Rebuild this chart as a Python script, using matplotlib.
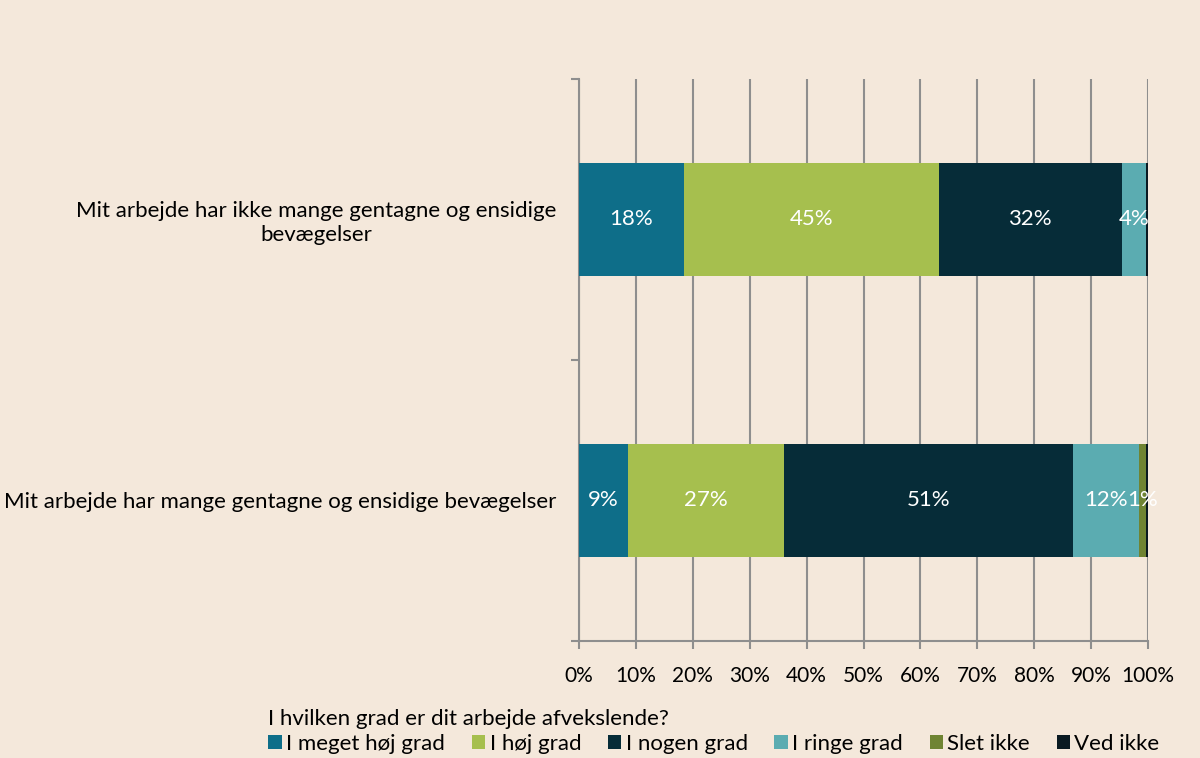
import numpy as np
import matplotlib.pyplot as plt

categories = [
    "Mit arbejde har ikke mange gentagne og ensidige\nbevægelser",
    "Mit arbejde har mange gentagne og ensidige bevægelser",
]

series_names = [
    "I meget høj grad",
    "I høj grad",
    "I nogen grad",
    "I ringe grad",
    "Slet ikke",
    "Ved ikke",
]

# percent per category (top, bottom)
meget_hoej = [18.4, 8.6]
hoej = [44.8, 27.4]
nogen = [32.2, 50.8]
ringe = [4.2, 11.6]
slet_ikke = [0.0, 1.2]
ved_ikke = [0.4, 0.4]

series_values = [meget_hoej, hoej, nogen, ringe, slet_ikke, ved_ikke]

series_colors = ["#0E6E89", "#A6BF4E", "#062C38", "#5BACB1", "#6F8433", "#0A1A22"]

legend_title = "I hvilken grad er dit arbejde afvekslende?"
x_ticks = np.arange(0, 101, 10)
x_ticklabels = [f"{t}%" for t in x_ticks]

bg = "#F4E8DB"
grid_col = "#8E8E8E"

plt.rcParams.update({
    "font.family": ["Lato", "DejaVu Sans"],
    "font.size": 16,
})

fig = plt.figure(figsize=(12, 7.58), dpi=100, facecolor=bg)
ax = fig.add_axes([0.4825, 0.1544, 0.4742, 0.7414])
ax.set_facecolor(bg)

y = np.arange(len(categories))
bar_h = 0.40
left = np.zeros(len(categories))

for name, vals, col in zip(series_names, series_values, series_colors):
    vals = np.array(vals, dtype=float)
    bars = ax.barh(y, vals, left=left, height=bar_h, color=col,
                   label=name, zorder=3)
    for b, v in zip(bars, vals):
        if round(v) >= 1:
            ax.text(b.get_x() + b.get_width() / 2, b.get_y() + b.get_height() / 2,
                    f"{round(v)}%", ha="center", va="center",
                    color="white", fontsize=16, zorder=4)
    left += vals

ax.set_xlim(0, 100)
ax.set_ylim(len(categories) - 0.5, -0.5)

ax.set_xticks(x_ticks)
ax.set_xticklabels(x_ticklabels)
ax.tick_params(axis="x", direction="out", length=6, width=1.5, color=grid_col,
               pad=12, labelsize=15)

# category boundaries as major ticks, labels on minor ticks at centres
ax.set_yticks(np.arange(len(categories) + 1) - 0.5)
ax.set_yticklabels([])
ax.set_yticks(y, minor=True)
ax.set_yticklabels(categories, minor=True, ha="right", multialignment="center")
ax.tick_params(axis="y", which="major", direction="out", length=6, width=1.5,
               color=grid_col)
ax.tick_params(axis="y", which="minor", length=0, pad=16, labelsize=16)

ax.xaxis.grid(True, color=grid_col, linewidth=1.5, zorder=0)
ax.set_axisbelow(True)

for side in ["top", "right"]:
    ax.spines[side].set_visible(False)
for side in ["left", "bottom"]:
    ax.spines[side].set_color(grid_col)
    ax.spines[side].set_linewidth(1.5)

handles, labels = ax.get_legend_handles_labels()
leg = fig.legend(
    handles, labels,
    title=legend_title,
    loc="lower left",
    bbox_to_anchor=(0.22, 0.0),
    ncol=6,
    frameon=False,
    fontsize=16,
    title_fontsize=16,
    handlelength=0.6,
    handleheight=0.6,
    handletextpad=0.2,
    columnspacing=1.2,
    alignment="left",
    borderaxespad=0.0,
    borderpad=0.2,
    labelspacing=0.2,
)

fig.savefig("out.png", dpi=100, facecolor=bg)
